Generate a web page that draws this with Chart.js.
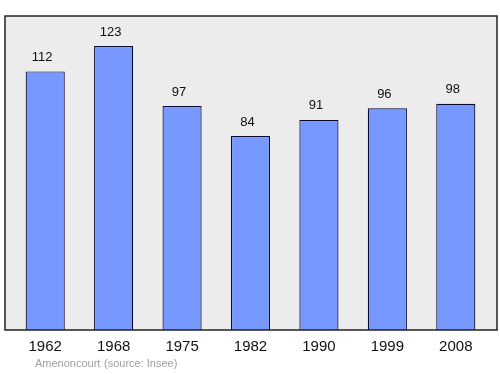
<!DOCTYPE html>
<html>
<head>
<meta charset="utf-8">
<script src="https://cdn.jsdelivr.net/npm/chart.js@4/dist/chart.umd.min.js"></script>
<style>
  html, body { margin: 0; padding: 0; background: #fff; }
  #wrap { width: 500px; height: 374px; }
</style>
</head>
<body>
<div id="wrap"><canvas id="grafico" width="500" height="374"></canvas></div>
<script>
const anni = ["1962", "1968", "1975", "1982", "1990", "1999", "2008"];
const abitanti = [112, 123, 97, 84, 91, 96, 98];
const comune = "Amenoncourt";
const fonte = "(source: Insee)";

// cornice grigia dietro le barre
const cornice = {
  id: 'cornice',
  beforeDatasetsDraw(chart) {
    const c = chart.ctx, a = chart.chartArea;
    c.save();
    c.fillStyle = '#ececec';
    c.fillRect(a.left - 6, a.top, a.right - a.left + 13, a.bottom - a.top);
    c.restore();
  },
  afterDatasetsDraw(chart) {
    const c = chart.ctx, a = chart.chartArea;
    c.save();
    c.strokeStyle = '#222';
    c.lineWidth = 1.5;
    c.strokeRect(a.left - 6, a.top, a.right - a.left + 13, a.bottom - a.top);
    // etichette dei valori
    const meta = chart.getDatasetMeta(0);
    c.fillStyle = '#111';
    c.font = '13px "Liberation Sans", Arial, sans-serif';
    c.textAlign = 'center';
    c.textBaseline = 'middle';
    meta.data.forEach((bar, i) => {
      c.fillText(abitanti[i], bar.x - 3, bar.y - 14);
    });
    // anni sotto
    c.font = '15px "Liberation Sans", Arial, sans-serif';
    const xs = chart.scales.x;
    anni.forEach((a2, i) => {
      c.fillText(a2, xs.getPixelForValue(i), a.bottom + 17);
    });
    // piede
    c.fillStyle = '#a0a0a0';
    c.font = '11px "Liberation Sans", Arial, sans-serif';
    c.textAlign = 'left';
    c.fillText(comune, 35, 364);
    c.fillText(fonte, 104, 364);
    c.restore();
  }
};

new Chart(document.getElementById('grafico'), {
  type: 'bar',
  data: {
    labels: anni,
    datasets: [{
      data: abitanti,
      backgroundColor: '#7799ff',
      borderColor: '#0a0a30',
      borderWidth: 1.2,
      barPercentage: 0.572,
      categoryPercentage: 1
    }]
  },
  options: {
    responsive: false,
    animation: false,
    layout: { padding: { left: 11, right: 10, top: 16, bottom: 44 } },
    plugins: { legend: { display: false }, tooltip: { enabled: false } },
    scales: {
      x: { display: false },
      y: { display: false, min: 0, max: 136 }
    }
  },
  plugins: [cornice]
});
</script>
</body>
</html>
